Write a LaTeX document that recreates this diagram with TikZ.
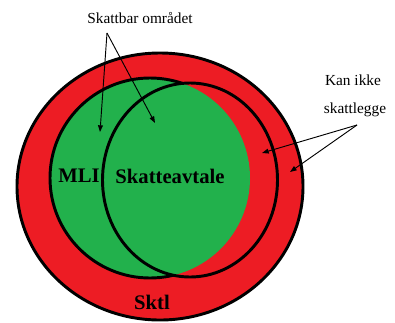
\documentclass[tikz,border=0pt]{standalone}
\usepackage{fontspec}
\setmainfont{Liberation Serif}
\usetikzlibrary{arrows.meta}
\definecolor{sktlred}{HTML}{ED1C24}
\definecolor{mligreen}{HTML}{22B14C}
\tikzset{
  ring/.style={draw=black,line width=2.2pt},
  pointer/.style={-{Triangle[length=5pt,width=3.6pt]},line width=0.7pt},
  bigtext/.style={font=\fontsize{15.5}{18}\selectfont\bfseries},
  note/.style={font=\fontsize{11.5}{14}\selectfont}
}

\begin{document}
\begin{tikzpicture}[x=0.75pt,y=-0.75pt]
    \useasboundingbox (0,0) rectangle (395,322);
    \fill[white] (0,0) rectangle (395,322);
    % Sktl, MLI and Skatteavtale
    \draw[ring,fill=sktlred] (160,186.5) ellipse [x radius=143,y radius=133.5];
    \draw[ring,fill=mligreen] (150,178) circle [radius=100];
    \fill[sktlred] (190,180) ellipse [x radius=87.5,y radius=97];
    \begin{scope}
      \clip (150,178) circle [radius=100];
      \fill[mligreen] (190,180) ellipse [x radius=87.5,y radius=97];
    \end{scope}
    \draw[ring] (190,180) ellipse [x radius=87.5,y radius=97];
    \node[bigtext] (mli) at (79,176) {MLI};
    \node[bigtext] (avtale) at (170,176) {Skatteavtale};
    \node[bigtext] (sktl) at (152,302) {Sktl};
    % labels with arrows
    \node[note] (skattbar) at (140,18) {Skattbar området};
    \node[note] (kanikke) at (353,80) {Kan ikke};
    \node[note] (skattlegge) at (355,110) {skattlegge};
    \coordinate (sbfork) at (107,33);
    \coordinate (kanfork) at (357,125);
    \coordinate (mlitip) at (100,132); \coordinate (avtaletip) at (155,123);
    \coordinate (innertip) at (262,153); \coordinate (outertip) at (290,172);
    \draw[pointer] (sbfork) -- (mlitip);
    \draw[pointer] (sbfork) -- (avtaletip);
    \draw[pointer] (kanfork) -- (innertip);
    \draw[pointer] (kanfork) -- (outertip);
  \end{tikzpicture}
\end{document}
